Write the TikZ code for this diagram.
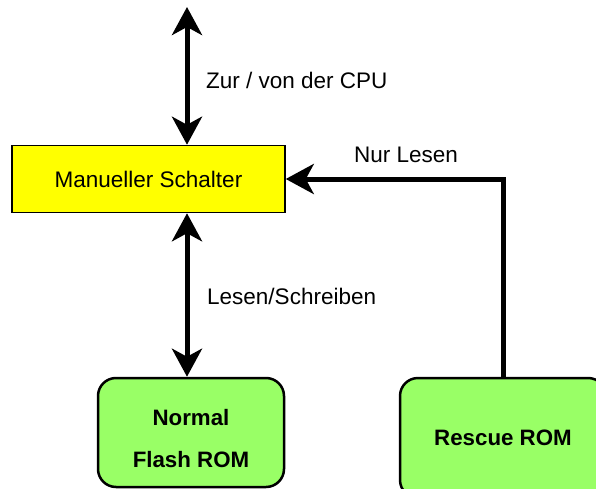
\documentclass[tikz,border=0pt]{standalone}
\usepackage{fontspec}
\setmainfont{Liberation Sans}
\usetikzlibrary{arrows.meta}
\definecolor{switchyellow}{RGB}{255,255,0}
\definecolor{romgreen}{RGB}{153,255,102}
\begin{document}
\begin{tikzpicture}[x=1pt,y=-1pt,
  link/.style={line width=5pt, -{Stealth[length=28pt,width=30pt,inset=8pt]}},
  biglink/.style={line width=5pt, {Stealth[length=28pt,width=30pt,inset=8pt]}-{Stealth[length=28pt,width=30pt,inset=8pt]}},
  rombox/.style={draw, line width=2.5pt, rounded corners=18pt, fill=romgreen, inner sep=0pt, align=center, font=\fontsize{22.3}{42}\selectfont\bfseries}]
\clip (0,0) rectangle (596,489);
\fontsize{22.5}{27}\selectfont
\node[draw, line width=1.5pt, fill=switchyellow, inner sep=0pt, minimum width=273pt, minimum height=67pt] (switch) at (148.5,179) {Manueller Schalter};
\node[rombox, minimum width=186pt, minimum height=109pt] (normal) at (191,432.5) {\rule{0pt}{28.5pt}Normal\\Flash ROM};
\node[rombox, minimum width=206pt, minimum height=120pt] (rescue) at (503,438) {Rescue ROM};
\coordinate (cpu) at (187,7);
\draw[biglink] (cpu) -- (cpu |- switch.north);
\draw[biglink] (switch.south -| cpu) -- (normal.north -| cpu);
\draw[link] (rescue.north) |- (switch.east);
\node[anchor=west, inner sep=0pt] (cpulabel) at (206,80) {Zur / von der CPU};
\node (readlabel) at (406,155) {Nur Lesen};
\node[anchor=west, inner sep=0pt] (rwlabel) at (207,296) {Lesen/Schreiben};
\end{tikzpicture}
\end{document}
